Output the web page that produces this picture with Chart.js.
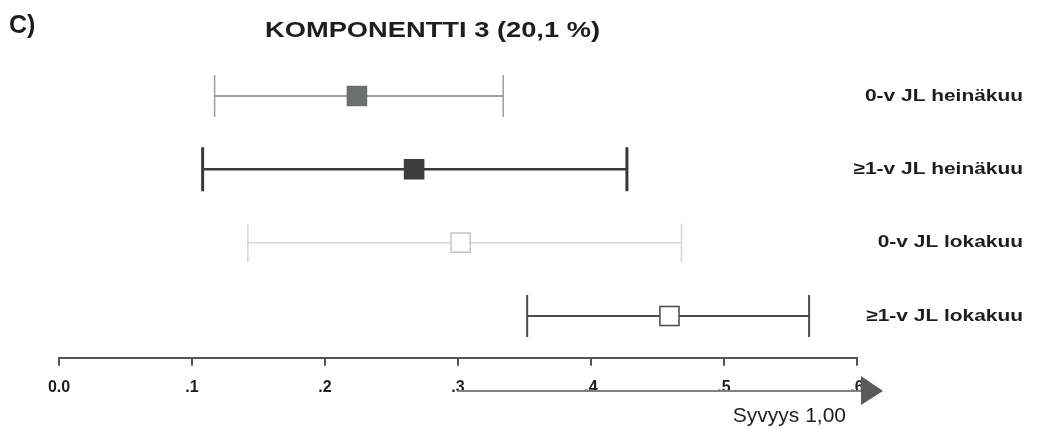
<!DOCTYPE html>
<html>
<head>
<meta charset="utf-8">
<script src="https://cdn.jsdelivr.net/npm/chart.js@4.4.1/dist/chart.umd.min.js"></script>
<style>
  html, body { margin: 0; padding: 0; background: #fff; }
  #wrap { width: 1039px; height: 429px; position: relative; }
</style>
</head>
<body>
<div id="wrap"><canvas id="chart"></canvas></div>
<script>
// values
const panelLabel = "C)"
const chartTitle = "KOMPONENTTI 3 (20,1 %)"
const axisTitle = "Syvyys 1,00"
const groups = ["0-v JL heinäkuu", "≥1-v JL heinäkuu", "0-v JL lokakuu", "≥1-v JL lokakuu"]
const means  = [0.224, 0.267, 0.302, 0.459]
const lowers = [0.117, 0.108, 0.142, 0.352]
const uppers = [0.334, 0.427, 0.468, 0.564]
const xTicks = ["0.0", ".1", ".2", ".3", ".4", ".5", ".6"]
const arrowFrom = 0.3

// per-row look
const lineColors  = ["#9e9e9e", "#3a3a3a", "#d6d6d6", "#4a4a4a"]
const lineWidths  = [2, 2.5, 1.5, 2]
const capWidths   = [1.5, 3, 1.5, 2]
const capHalf     = [21, 22, 19, 21]
const markerFill  = ["#6c6f6e", "#3d3d3d", "#ffffff", "#ffffff"]
const markerEdge  = ["#6c6f6e", "#3d3d3d", "#c4c4c4", "#4a4a4a"]

const rangeSets = groups.map((g, i) => ({
  label: g,
  data: [{ x: lowers[i], y: i }, { x: uppers[i], y: i }],
  showLine: true,
  borderColor: lineColors[i],
  borderWidth: lineWidths[i],
  pointStyle: "line",
  rotation: 90,
  pointRadius: capHalf[i],
  pointBorderColor: lineColors[i],
  pointBorderWidth: capWidths[i],
  order: 1
}))

const meanSet = {
  label: "mean",
  data: means.map((m, i) => ({ x: m, y: i })),
  showLine: false,
  pointStyle: "rect",
  pointRadius: 13.5,
  pointBackgroundColor: markerFill,
  pointBorderColor: markerEdge,
  pointBorderWidth: 1.5,
  order: 0
}

// the scan is stretched sideways, so the text is widened a little
function wideText(ctx, text, x, y, sx) {
  ctx.save()
  ctx.translate(x, y)
  ctx.scale(sx, 1)
  ctx.fillText(text, 0, 0)
  ctx.restore()
}

const overlay = {
  id: "overlay",
  afterDraw(chart) {
    const ctx = chart.ctx
    const xs = chart.scales.x, ys = chart.scales.y
    ctx.save()
    ctx.fillStyle = "#1e1e1e"
    ctx.textBaseline = "middle"

    ctx.font = "bold 25px 'Liberation Sans', Arial, sans-serif"
    ctx.textAlign = "left"
    ctx.fillText(panelLabel, 9, 26)

    ctx.font = "bold 22px 'Liberation Sans', Arial, sans-serif"
    wideText(ctx, chartTitle, 265, 31, 1.24)

    ctx.font = "bold 17px 'Liberation Sans', Arial, sans-serif"
    ctx.textAlign = "right"
    groups.forEach((g, i) => wideText(ctx, g, 1023, ys.getPixelForValue(i), 1.23))

    // depth arrow under the axis
    const x0 = xs.getPixelForValue(arrowFrom)
    const xEnd = xs.getPixelForValue(xs.max)
    const ay = 391
    ctx.strokeStyle = "#808080"
    ctx.lineWidth = 1.8
    ctx.beginPath()
    ctx.moveTo(x0, ay)
    ctx.lineTo(xEnd + 6, ay)
    ctx.stroke()
    ctx.fillStyle = "#5a5a5a"
    ctx.beginPath()
    ctx.moveTo(xEnd + 4, ay - 15)
    ctx.lineTo(xEnd + 26, ay)
    ctx.lineTo(xEnd + 4, ay + 14)
    ctx.closePath()
    ctx.fill()

    ctx.fillStyle = "#1e1e1e"
    ctx.font = "21px 'Liberation Sans', Arial, sans-serif"
    ctx.textAlign = "right"
    ctx.textBaseline = "alphabetic"
    ctx.fillText(axisTitle, 846, 422)
    ctx.restore()
  }
}

new Chart(document.getElementById("chart"), {
  type: "scatter",
  data: { datasets: [meanSet, ...rangeSets] },
  options: {
    responsive: true,
    maintainAspectRatio: false,
    animation: false,
    layout: { padding: { left: 59, right: 182, top: 60, bottom: 20 } },
    plugins: { legend: { display: false }, tooltip: { enabled: false } },
    elements: { line: { tension: 0 } },
    scales: {
      x: {
        type: "linear",
        min: 0,
        max: 0.6,
        border: { display: true, color: "#555", width: 2 },
        grid: { drawOnChartArea: false, drawTicks: true, tickLength: 8, color: "#555", lineWidth: 2 },
        ticks: {
          stepSize: 0.1,
          padding: 12,
          color: "#1e1e1e",
          font: { family: "'Liberation Sans', Arial, sans-serif", size: 16, weight: "bold" },
          maxRotation: 0,
          callback: (v, i) => xTicks[i]
        }
      },
      y: {
        type: "linear",
        reverse: true,
        min: -0.49,
        max: 3.57,
        display: false
      }
    }
  },
  plugins: [overlay]
})
</script>
</body>
</html>
